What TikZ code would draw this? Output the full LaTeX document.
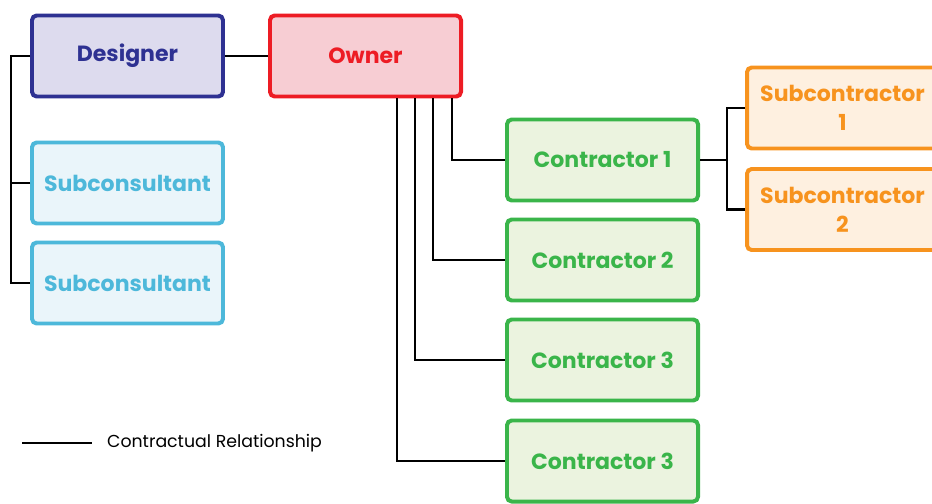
\documentclass[tikz,border=0pt]{standalone}
\usepackage{fontspec}
\setmainfont{Poppins}
\usepackage{tikz}

\definecolor{dsgnline}{HTML}{2E3192}
\definecolor{dsgnfill}{HTML}{DDDBEE}
\definecolor{ownline}{HTML}{ED1C24}
\definecolor{ownfill}{HTML}{F7CDD3}
\definecolor{scnline}{HTML}{4DB8DA}
\definecolor{scnfill}{HTML}{EAF5FA}
\definecolor{conline}{HTML}{3AB54A}
\definecolor{confill}{HTML}{EBF3DF}
\definecolor{subline}{HTML}{F7931E}
\definecolor{subfill}{HTML}{FEF0E0}

\begin{document}
\begin{tikzpicture}[x=0.03cm,y=-0.03cm,
   box/.style={draw,line width=3.4pt,rounded corners=4pt,
      minimum width=5.73cm,minimum height=2.43cm,align=center,
      font=\fontsize{18.8}{25}\selectfont\bfseries},
   link/.style={line width=2.5pt}]

   \useasboundingbox (0,0) rectangle (932,503);
   \clip (0,0) rectangle (932,503);

   % design side
   \node[box,draw=dsgnline,fill=dsgnfill,text=dsgnline] (designer) at (127.5,56) {Designer};
   \node[box,draw=scnline,fill=scnfill,text=scnline] (scn1) at (127.5,183) {Subconsultant};
   \node[box,draw=scnline,fill=scnfill,text=scnline] (scn2) at (127.5,283) {Subconsultant};

   \node[box,draw=ownline,fill=ownfill,text=ownline] (owner) at (365.5,56) {Owner};

   % construction side
   \node[box,draw=conline,fill=confill,text=conline] (con1) at (602.5,160) {Contractor 1};
   \node[box,draw=conline,fill=confill,text=conline] (con2) at (602.5,260) {Contractor 2};
   \node[box,draw=conline,fill=confill,text=conline] (con3) at (602.5,360) {Contractor 3};
   \node[box,draw=conline,fill=confill,text=conline] (con4) at (602.5,461) {Contractor 3};

   \node[box,draw=subline,fill=subfill,text=subline] (sub1) at (842.5,108) {Subcontractor\\1};
   \node[box,draw=subline,fill=subfill,text=subline] (sub2) at (842.5,209.5) {Subcontractor\\2};

   % contracts
   \draw[link] (designer) -- (owner);
   \draw[link] (designer.west) -- ++(-19,0) |- (scn2.west);
   \draw[link] (scn1.west) -- ++(-19,0);

   \draw[link] (owner.south) ++(86.5,0) |- (con1.west);
   \draw[link] (owner.south) ++(67.5,0) |- (con2.west);
   \draw[link] (owner.south) ++(49.5,0) |- (con3.west);
   \draw[link] (owner.south) ++(31.5,0) |- (con4.west);

   \draw[link] (sub1.west) -- ++(-18,0) coordinate (fork) |- (sub2.west);
   \draw[link] (con1.east) -- (con1.east -| fork);

   % key
   \coordinate (keyL) at (22,443);
   \coordinate (keyR) at (92,443);
   \draw[link] (keyL) -- (keyR);
   \node[anchor=west,font=\fontsize{14.8}{17}\selectfont] (keytext) at (103,443) {Contractual Relationship};

\end{tikzpicture}
\end{document}
